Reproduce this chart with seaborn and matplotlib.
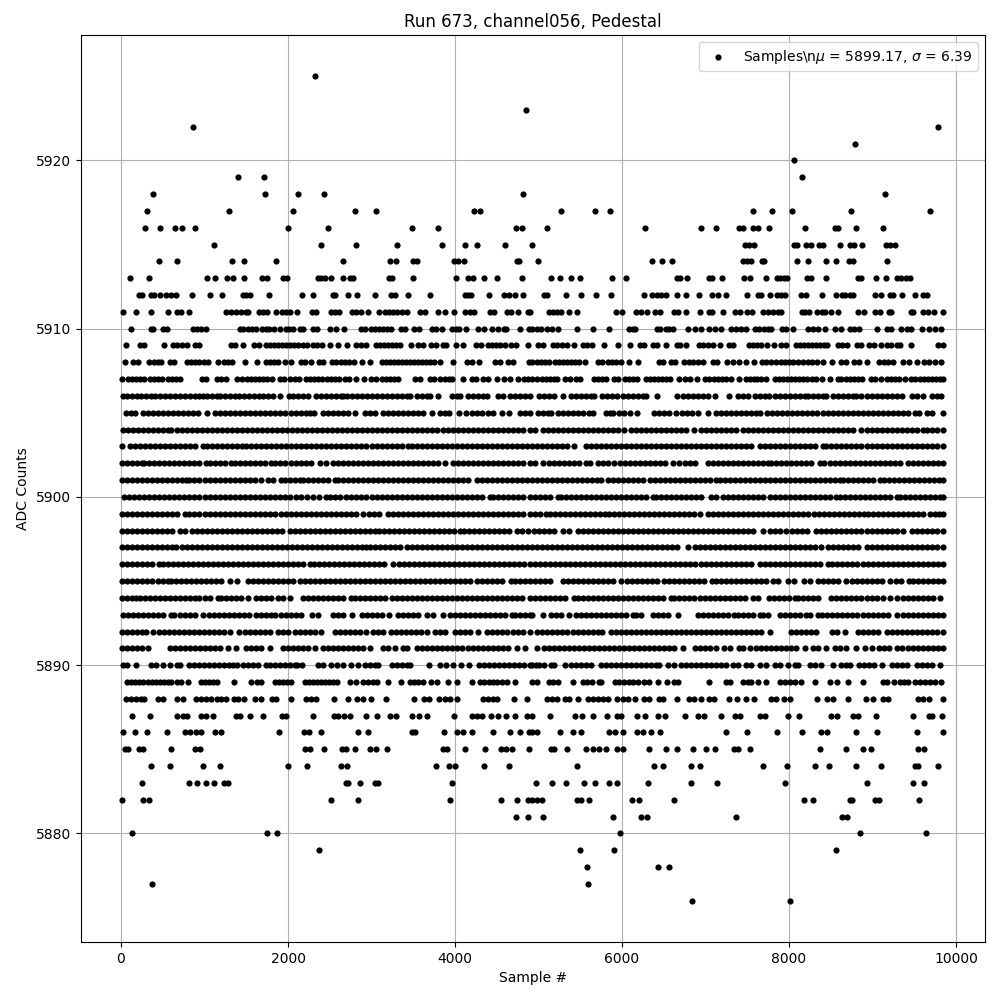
import matplotlib
matplotlib.use("Agg")
import matplotlib.pyplot as plt
import pandas as pd
import seaborn as sns

title = "Run 673, channel056, Pedestal"
x_label = "Sample #"
y_label = "ADC Counts"
legend_label = r"Samples\n$\mu$ = 5899.17, $\sigma$ = 6.39"

r5925 = [2324]
r5923 = [4856]
r5922 = [860, 9788]
r5921 = [8792]
r5920 = [8060]
r5919 = [1400, 1712, 8156]
r5918 = [380, 1724, 2120, 2432, 4820, 9152]
r5917 = [308, 1292, 2060, 2804, 3056, 4232, 4304, 5264, 5672, 5852, 7568, 7796, 8036, 8744, 9692]
r5916 = [284, 464, 644, 728, 884, 2000, 2480, 3488, 3800, 4732, 4800, 5096, 6272, 6944, 7124, 7396, 7448, 7568, 7628, 7760, 8192, 8552, 8588, 8804, 9128]
r5915 = [1112, 2396, 2816, 3308, 3848, 4124, 4268, 4604, 4928, 7468, 7520, 7580, 8060, 8096, 8204, 8264, 8360, 8408, 8612, 8732, 8780, 8876, 9160, 9212, 9272]
r5914 = [452, 668, 1328, 1472, 1856, 2660, 3224, 3296, 3500, 3548, 3992, 4040, 4112, 4740, 4772, 4988, 6356, 6476, 6596, 7448, 7496, 7544, 7676, 7700, 8096, 8228, 8444, 8564, 8720, 8768, 9176]
r5913 = [104, 332, 1028, 1124, 1268, 1340, 1472, 1688, 1748, 1940, 1988, 2360, 2396, 2444, 2516, 2660, 2744, 2780, 3212, 3248, 3500, 4016, 4160, 4220, 4352, 4508, 4808, 5144, 5252, 5384, 5492, 5876, 6044, 6656, 6692, 6776, 7040, 7076, 7196, 7460, 7532, 7724, 7856, 7892, 7940, 7976, 8216, 8264, 8444, 8828, 8864, 9044, 9164, 9296, 9344, 9404, 9452]
r5912 = [212, 248, 356, 392, 464, 536, 596, 656, 848, 1064, 1208, 1460, 1496, 1540, 1772, 2168, 2300, 2540, 2564, 2720, 2828, 3044, 3236, 3284, 3440, 3704, 4124, 4160, 4196, 4412, 4592, 4652, 4724, 4820, 5060, 5096, 5324, 5504, 5684, 5864, 6260, 6356, 6416, 6464, 6524, 6656, 6764, 6920, 7076, 7148, 7244, 7496, 7628, 7664, 7772, 7856, 7904, 7952, 8144, 8204, 8396, 8564, 8636, 8672, 8732, 8768, 9032, 9104, 9212, 9248, 9356, 9512, 9608, 9648]
r5911 = [20, 176, 356, 560, 668, 716, 812, 1256, 1316, 1376, 1436, 1496, 1520, 1652, 1700, 1748, 1856, 1928, 1976, 2024, 2108, 2288, 2336, 2516, 2564, 2612, 2768, 2816, 2876, 2960, 3092, 3164, 3212, 3260, 3308, 3368, 3428, 3584, 3644, 3800, 3884, 3992, 4124, 4184, 4232, 4424, 4472, 4628, 4676, 4760, 4880, 4904, 5120, 5168, 5216, 5264, 5360, 5456, 5924, 5996, 6164, 6224, 6296, 6392, 6452, 6620, 6668, 6764, 6932, 7040, 7076, 7208, 7352, 7412, 7496, 7556, 7688, 7748, 7808, 7868, 7904, 8156, 8192, 8240, 8336, 8396, 8432, 8504, 8588, 8828, 8900, 9032, 9092, 9200, 9224, 9464, 9488, 9608, 9668, 9736, 9848]
r5910 = [116, 356, 380, 500, 548, 868, 916, 964, 1012, 1424, 1460, 1520, 1568, 1616, 1688, 1736, 1772, 1832, 1904, 1976, 2012, 2060, 2148, 2180, 2300, 2348, 2504, 2576, 2672, 2876, 2924, 2996, 3044, 3092, 3140, 3188, 3236, 3356, 3404, 3512, 3572, 3728, 3776, 3848, 3968, 4016, 4052, 4136, 4280, 4352, 4448, 4520, 4592, 4616, 4784, 4892, 4928, 4976, 5024, 5096, 5156, 5228, 5456, 5648, 5840, 6080, 6128, 6152, 6416, 6452, 6524, 6560, 6608, 6788, 6872, 6944, 7040, 7112, 7184, 7304, 7364, 7424, 7484, 7592, 7640, 7700, 7748, 7784, 7916, 7964, 8048, 8228, 8288, 8348, 8432, 8552, 8624, 8732, 8780, 8840, 9056, 9176, 9224, 9344, 9416, 9464, 9596, 9680, 9752, 9824]
r5909 = [56, 224, 272, 512, 620, 668, 728, 788, 884, 932, 1316, 1364, 1460, 1592, 1652, 1736, 1784, 1832, 1880, 1928, 1976, 2024, 2072, 2120, 2180, 2228, 2300, 2348, 2408, 2504, 2600, 2708, 2816, 2876, 2936, 3056, 3104, 3152, 3200, 3248, 3296, 3344, 3476, 3560, 3620, 3716, 3776, 3856, 3892, 4016, 4100, 4256, 4316, 4400, 4448, 4496, 4544, 4604, 4676, 4736, 4880, 4988, 5048, 5168, 5216, 5276, 5336, 5420, 5528, 5576, 5636, 5780, 5948, 6092, 6212, 6260, 6368, 6416, 6524, 6656, 6692, 6764, 6920, 6968, 7028, 7088, 7172, 7280, 7328, 7520, 7568, 7616, 7664, 7736, 7820, 7904, 7964, 8084, 8132, 8180, 8228, 8276, 8324, 8372, 8420, 8460, 8588, 8636, 8696, 8816, 8864, 8960, 9020, 9104, 9176, 9224, 9296, 9332, 9464, 9788, 9848]
r5908 = [44, 140, 200, 332, 392, 440, 476, 584, 632, 788, 836, 884, 932, 992, 1040, 1160, 1232, 1280, 1328, 1484, 1628, 1736, 1784, 1832, 1880, 1964, 2036, 2156, 2204, 2276, 2372, 2420, 2528, 2576, 2636, 2684, 2732, 2792, 2888, 2984, 3128, 3176, 3224, 3272, 3320, 3368, 3416, 3464, 3512, 3560, 3608, 3656, 3704, 3752, 3824, 3980, 4148, 4208, 4292, 4484, 4544, 4640, 4700, 4892, 4928, 4976, 5024, 5072, 5128, 5192, 5240, 5288, 5336, 5384, 5432, 5480, 5552, 5708, 5756, 5828, 5876, 5924, 5984, 6080, 6188, 6440, 6488, 6584, 6632, 6740, 6800, 6848, 6908, 6968, 7088, 7136, 7256, 7328, 7400, 7484, 7580, 7676, 7724, 7784, 7844, 7904, 7952, 8000, 8048, 8108, 8168, 8228, 8276, 8336, 8408, 8516, 8624, 8684, 8780, 8840, 8936, 9080, 9140, 9188, 9248, 9368, 9440, 9536, 9620, 9680, 9752, 9824]
r5907 = [8, 80, 128, 176, 224, 272, 344, 392, 440, 488, 560, 608, 656, 704, 968, 1016, 1148, 1196, 1256, 1388, 1448, 1508, 1556, 1604, 1652, 1700, 1748, 1808, 1904, 1952, 2024, 2084, 2132, 2216, 2264, 2312, 2360, 2408, 2468, 2516, 2564, 2612, 2684, 2732, 2816, 2912, 2996, 3056, 3128, 3176, 3224, 3272, 3320, 3524, 3584, 3704, 3752, 3824, 3884, 3932, 3968, 4100, 4208, 4256, 4340, 4400, 4500, 4592, 4664, 4760, 4832, 4880, 4928, 4976, 5036, 5084, 5132, 5180, 5216, 5312, 5372, 5444, 5492, 5660, 5708, 5756, 5804, 5904, 5948, 6032, 6080, 6128, 6176, 6284, 6332, 6380, 6428, 6476, 6524, 6572, 6680, 6752, 6812, 6896, 6992, 7040, 7100, 7148, 7196, 7244, 7304, 7400, 7484, 7532, 7580, 7616, 7664, 7724, 7832, 7880, 7928, 7976, 8024, 8072, 8120, 8168, 8216, 8276, 8324, 8396, 8492, 8588, 8624, 8684, 8732, 8780, 8828, 8876, 8984, 9032, 9104, 9176, 9224, 9272, 9320, 9392, 9464, 9512, 9572, 9620, 9668, 9716, 9764, 9812, 9850]
r5906 = [20, 76, 132, 188, 244, 300, 356, 412, 468, 524, 588, 652, 712, 772, 832, 892, 940, 980, 1028, 1088, 1148, 1188, 1240, 1300, 1360, 1408, 1468, 1528, 1588, 1648, 1700, 1760, 1820, 1900, 2012, 2060, 2120, 2180, 2240, 2332, 2392, 2452, 2512, 2572, 2632, 2660, 2708, 2768, 2828, 2888, 2948, 3008, 3068, 3128, 3188, 3248, 3308, 3368, 3428, 3460, 3540, 3600, 3660, 3700, 3792, 3960, 4020, 4060, 4160, 4220, 4280, 4340, 4380, 4520, 4580, 4660, 4720, 4780, 4840, 4900, 5008, 5068, 5128, 5188, 5288, 5388, 5448, 5508, 5568, 5628, 5668, 5760, 5820, 5880, 5936, 6008, 6068, 6128, 6188, 6248, 6288, 6416, 6656, 6728, 6788, 6848, 6908, 6968, 7028, 7108, 7276, 7388, 7448, 7508, 7588, 7648, 7708, 7760, 7828, 7888, 7948, 8008, 8068, 8128, 8188, 8228, 8288, 8348, 8408, 8448, 8528, 8588, 8648, 8708, 8768, 8808, 8868, 8928, 8988, 9048, 9108, 9168, 9228, 9288, 9348, 9472, 9528, 9608, 9708, 9768, 9816]
r5905 = [60, 120, 168, 260, 320, 380, 440, 500, 560, 620, 680, 740, 800, 860, 920, 1028, 1120, 1180, 1240, 1300, 1360, 1420, 1488, 1548, 1608, 1668, 1728, 1788, 1848, 1908, 1968, 2040, 2100, 2160, 2220, 2260, 2312, 2420, 2480, 2540, 2600, 2660, 2720, 2800, 2920, 2980, 3040, 3140, 3200, 3260, 3320, 3380, 3440, 3500, 3560, 3620, 3720, 3820, 3880, 3932, 4052, 4132, 4200, 4260, 4320, 4400, 4460, 4560, 4652, 4780, 4840, 4900, 4988, 5048, 5108, 5148, 5228, 5288, 5348, 5408, 5468, 5528, 5600, 5648, 5808, 5860, 5896, 5960, 6020, 6096, 6176, 6388, 6448, 6508, 6568, 6648, 6720, 6780, 6840, 6908, 7028, 7120, 7180, 7240, 7300, 7360, 7420, 7480, 7540, 7600, 7648, 7736, 7796, 7856, 7916, 7976, 8036, 8096, 8156, 8216, 8276, 8336, 8408, 8468, 8528, 8588, 8648, 8708, 8768, 8828, 8888, 8948, 9008, 9068, 9128, 9188, 9248, 9308, 9368, 9428, 9508, 9560, 9648, 9708, 9848]
r5904 = [20, 80, 140, 200, 260, 320, 380, 440, 500, 560, 600, 668, 728, 788, 848, 908, 968, 1028, 1088, 1148, 1208, 1268, 1328, 1388, 1448, 1508, 1568, 1628, 1688, 1748, 1808, 1868, 1928, 1988, 2048, 2108, 2168, 2228, 2288, 2348, 2408, 2468, 2528, 2588, 2648, 2708, 2768, 2828, 2888, 2948, 3008, 3068, 3128, 3188, 3248, 3308, 3368, 3428, 3488, 3548, 3608, 3668, 3728, 3788, 3860, 3920, 3980, 4040, 4100, 4160, 4220, 4280, 4340, 4400, 4460, 4520, 4580, 4640, 4700, 4760, 4820, 4900, 4960, 5048, 5108, 5168, 5228, 5288, 5348, 5408, 5468, 5528, 5588, 5648, 5708, 5768, 5828, 5888, 5948, 6028, 6108, 6168, 6228, 6288, 6348, 6408, 6468, 6528, 6588, 6648, 6708, 6768, 6868, 6948, 7008, 7068, 7128, 7188, 7248, 7308, 7368, 7448, 7508, 7568, 7628, 7688, 7748, 7808, 7868, 7928, 7988, 8048, 8108, 8168, 8228, 8288, 8348, 8408, 8468, 8528, 8588, 8648, 8708, 8768, 8868, 8928, 8988, 9048, 9108, 9168, 9228, 9288, 9348, 9408, 9468, 9528, 9608, 9648, 9708, 9768, 9848]
r5903 = [8, 108, 168, 228, 288, 348, 408, 468, 528, 588, 648, 708, 768, 828, 888, 980, 1028, 1088, 1148, 1208, 1268, 1328, 1388, 1448, 1500, 1560, 1620, 1680, 1740, 1800, 1860, 1920, 1980, 2040, 2100, 2160, 2220, 2280, 2340, 2400, 2460, 2520, 2580, 2640, 2700, 2760, 2820, 2880, 2940, 3000, 3060, 3120, 3180, 3240, 3300, 3360, 3440, 3480, 3540, 3600, 3660, 3720, 3780, 3840, 3900, 3960, 4020, 4080, 4140, 4200, 4260, 4320, 4380, 4440, 4500, 4560, 4620, 4680, 4740, 4800, 4860, 4920, 4980, 5040, 5100, 5160, 5220, 5280, 5340, 5428, 5568, 5628, 5688, 5748, 5808, 5868, 5928, 5988, 6048, 6108, 6168, 6228, 6288, 6348, 6408, 6468, 6528, 6588, 6648, 6708, 6768, 6828, 6888, 6948, 7008, 7068, 7128, 7188, 7248, 7308, 7368, 7428, 7488, 7548, 7648, 7708, 7768, 7828, 7888, 7948, 8008, 8068, 8128, 8188, 8248, 8308, 8408, 8448, 8508, 8568, 8628, 8688, 8748, 8808, 8868, 8928, 8988, 9048, 9108, 9168, 9228, 9288, 9348, 9408, 9468, 9528, 9588, 9648, 9708, 9768, 9848]
r5902 = [8, 68, 128, 188, 248, 280, 340, 400, 460, 520, 580, 640, 700, 760, 820, 880, 940, 1020, 1060, 1120, 1180, 1240, 1320, 1360, 1420, 1480, 1540, 1600, 1660, 1720, 1800, 1840, 1900, 1960, 2040, 2100, 2160, 2220, 2280, 2388, 2460, 2540, 2600, 2660, 2720, 2780, 2840, 2900, 2960, 3020, 3080, 3140, 3200, 3260, 3320, 3380, 3440, 3500, 3560, 3620, 3680, 3740, 3800, 3880, 3972, 4032, 4092, 4152, 4212, 4272, 4332, 4392, 4452, 4512, 4572, 4640, 4700, 4760, 4820, 4900, 4960, 5048, 5128, 5188, 5248, 5308, 5368, 5428, 5488, 5572, 5612, 5708, 5768, 5828, 5908, 5976, 6036, 6096, 6156, 6216, 6276, 6336, 6396, 6456, 6516, 6608, 6680, 6760, 6820, 6880, 7028, 7088, 7148, 7208, 7268, 7328, 7388, 7448, 7508, 7568, 7628, 7688, 7748, 7788, 7848, 7908, 7968, 8028, 8088, 8148, 8208, 8268, 8368, 8420, 8488, 8548, 8608, 8668, 8728, 8788, 8848, 8908, 8968, 9028, 9088, 9148, 9208, 9268, 9328, 9428, 9488, 9548, 9608, 9668, 9728, 9788, 9848]
r5901 = [8, 68, 128, 188, 248, 308, 368, 428, 488, 548, 608, 668, 728, 780, 820, 880, 940, 1000, 1060, 1120, 1180, 1240, 1300, 1360, 1420, 1480, 1540, 1600, 1672, 1760, 1820, 1920, 1960, 2020, 2080, 2140, 2180, 2240, 2300, 2360, 2420, 2480, 2560, 2600, 2660, 2720, 2780, 2840, 2900, 2960, 3020, 3080, 3140, 3200, 3260, 3320, 3380, 3440, 3500, 3560, 3620, 3680, 3740, 3800, 3860, 3920, 3980, 4040, 4100, 4160, 4260, 4320, 4380, 4440, 4500, 4560, 4620, 4680, 4740, 4800, 4860, 4920, 4980, 5040, 5100, 5160, 5220, 5280, 5340, 5400, 5460, 5520, 5580, 5640, 5700, 5748, 5828, 5888, 5948, 6008, 6068, 6128, 6188, 6248, 6336, 6396, 6456, 6516, 6576, 6636, 6696, 6756, 6816, 6876, 6936, 6996, 7056, 7128, 7168, 7228, 7288, 7348, 7408, 7468, 7528, 7588, 7648, 7708, 7768, 7828, 7888, 7948, 8008, 8068, 8128, 8188, 8248, 8308, 8368, 8428, 8488, 8548, 8608, 8648, 8708, 8768, 8828, 8888, 8948, 9008, 9088, 9136, 9196, 9256, 9316, 9376, 9436, 9496, 9556, 9616, 9676, 9736, 9796, 9848]
r5900 = [40, 100, 160, 220, 280, 340, 400, 460, 520, 580, 640, 700, 760, 820, 880, 940, 1000, 1060, 1120, 1180, 1240, 1300, 1360, 1420, 1480, 1540, 1600, 1660, 1720, 1780, 1840, 1900, 1960, 2020, 2100, 2160, 2230, 2300, 2370, 2460, 2500, 2560, 2620, 2700, 2760, 2820, 2880, 2940, 3000, 3060, 3120, 3180, 3240, 3300, 3360, 3420, 3480, 3540, 3600, 3660, 3720, 3780, 3840, 3900, 3960, 4020, 4080, 4140, 4200, 4260, 4320, 4420, 4460, 4520, 4580, 4640, 4700, 4760, 4820, 4900, 4960, 5020, 5080, 5140, 5228, 5268, 5328, 5388, 5448, 5508, 5568, 5628, 5688, 5748, 5808, 5868, 5928, 5988, 6048, 6108, 6168, 6228, 6288, 6368, 6408, 6468, 6528, 6588, 6648, 6708, 6768, 6828, 6888, 6948, 7068, 7128, 7208, 7268, 7328, 7388, 7448, 7508, 7568, 7628, 7688, 7776, 7836, 7896, 7956, 8016, 8076, 8136, 8196, 8256, 8316, 8376, 8436, 8496, 8568, 8608, 8668, 8728, 8788, 8848, 8908, 8968, 9028, 9088, 9148, 9208, 9288, 9328, 9388, 9448, 9508, 9568, 9628, 9688, 9748, 9808, 9848]
r5899 = [8, 68, 128, 188, 248, 308, 368, 428, 488, 548, 608, 668, 772, 820, 880, 940, 1000, 1060, 1120, 1180, 1240, 1300, 1360, 1420, 1480, 1540, 1600, 1660, 1720, 1780, 1840, 1920, 1980, 2040, 2100, 2160, 2220, 2280, 2340, 2400, 2460, 2520, 2580, 2640, 2700, 2760, 2820, 2900, 2972, 3032, 3092, 3200, 3260, 3320, 3380, 3440, 3500, 3560, 3620, 3680, 3740, 3800, 3860, 3920, 3980, 4040, 4100, 4160, 4220, 4280, 4340, 4400, 4460, 4520, 4580, 4640, 4700, 4760, 4820, 4900, 4960, 5020, 5088, 5136, 5196, 5256, 5316, 5376, 5436, 5496, 5556, 5616, 5676, 5736, 5796, 5848, 5908, 5968, 6028, 6088, 6148, 6208, 6268, 6328, 6388, 6448, 6508, 6568, 6628, 6688, 6748, 6808, 6868, 6928, 7028, 7088, 7148, 7208, 7268, 7328, 7388, 7448, 7508, 7568, 7628, 7688, 7748, 7808, 7868, 7928, 7988, 8048, 8108, 8168, 8228, 8296, 8356, 8416, 8476, 8536, 8596, 8656, 8716, 8776, 8836, 8896, 8948, 9008, 9068, 9128, 9188, 9248, 9308, 9368, 9428, 9488, 9548, 9608, 9688, 9748, 9800, 9848]
r5898 = [8, 68, 128, 188, 248, 308, 368, 428, 488, 548, 608, 708, 772, 852, 908, 968, 1028, 1088, 1148, 1208, 1268, 1328, 1388, 1448, 1508, 1568, 1628, 1688, 1748, 1808, 1868, 1928, 2020, 2080, 2140, 2200, 2260, 2320, 2380, 2440, 2500, 2560, 2620, 2680, 2740, 2800, 2860, 2920, 2980, 3040, 3092, 3152, 3212, 3272, 3332, 3392, 3452, 3512, 3572, 3632, 3692, 3752, 3812, 3872, 3932, 3992, 4060, 4112, 4172, 4232, 4292, 4352, 4412, 4472, 4532, 4592, 4652, 4740, 4800, 4880, 4940, 5000, 5060, 5120, 5180, 5288, 5368, 5468, 5528, 5588, 5648, 5708, 5768, 5828, 5888, 5948, 6008, 6068, 6128, 6188, 6248, 6308, 6368, 6428, 6488, 6548, 6608, 6668, 6728, 6788, 6848, 6908, 6968, 7028, 7088, 7148, 7208, 7268, 7328, 7388, 7448, 7508, 7568, 7688, 7776, 7836, 7896, 7968, 8040, 8100, 8160, 8220, 8328, 8388, 8448, 8508, 8568, 8628, 8688, 8748, 8808, 8868, 8928, 8988, 9048, 9108, 9168, 9228, 9288, 9368, 9468, 9528, 9588, 9648, 9708, 9768, 9848]
r5897 = [8, 68, 128, 188, 248, 308, 368, 428, 488, 548, 608, 660, 732, 792, 852, 912, 972, 1032, 1092, 1152, 1212, 1272, 1332, 1392, 1452, 1512, 1572, 1632, 1692, 1752, 1812, 1872, 1932, 1992, 2052, 2112, 2172, 2232, 2292, 2352, 2412, 2472, 2532, 2592, 2652, 2712, 2772, 2832, 2892, 2940, 2980, 3040, 3100, 3160, 3220, 3280, 3340, 3420, 3480, 3540, 3600, 3660, 3720, 3780, 3840, 3900, 3960, 4020, 4080, 4140, 4200, 4260, 4320, 4380, 4440, 4500, 4560, 4620, 4680, 4740, 4800, 4860, 4920, 4980, 5040, 5100, 5160, 5220, 5280, 5340, 5400, 5460, 5520, 5580, 5640, 5700, 5760, 5820, 5880, 5940, 6000, 6060, 6120, 6180, 6240, 6300, 6360, 6420, 6480, 6540, 6600, 6660, 6788, 6876, 6936, 6996, 7056, 7116, 7176, 7236, 7296, 7356, 7416, 7476, 7536, 7596, 7656, 7716, 7776, 7836, 7896, 7956, 8016, 8076, 8136, 8196, 8256, 8316, 8388, 8468, 8528, 8588, 8648, 8708, 8768, 8828, 8928, 8988, 9048, 9108, 9168, 9228, 9288, 9348, 9408, 9468, 9528, 9588, 9648, 9708, 9768, 9848]
r5896 = [8, 68, 128, 188, 248, 308, 368, 460, 500, 560, 620, 680, 740, 800, 860, 920, 980, 1040, 1100, 1160, 1220, 1280, 1340, 1400, 1460, 1520, 1580, 1640, 1700, 1760, 1820, 1880, 1940, 2000, 2060, 2120, 2180, 2260, 2312, 2372, 2432, 2492, 2552, 2612, 2672, 2732, 2792, 2852, 2912, 2972, 3032, 3092, 3152, 3260, 3330, 3390, 3450, 3510, 3570, 3630, 3690, 3750, 3810, 3870, 3930, 3990, 4050, 4110, 4170, 4230, 4290, 4350, 4410, 4470, 4530, 4590, 4650, 4710, 4770, 4830, 4900, 4960, 5020, 5080, 5140, 5200, 5260, 5320, 5380, 5440, 5500, 5560, 5620, 5680, 5740, 5800, 5860, 5920, 5980, 6040, 6100, 6160, 6220, 6280, 6340, 6400, 6460, 6520, 6580, 6640, 6700, 6760, 6820, 6880, 6940, 7000, 7060, 7120, 7180, 7240, 7300, 7360, 7420, 7480, 7540, 7648, 7708, 7768, 7828, 7888, 7948, 8008, 8068, 8128, 8188, 8248, 8316, 8376, 8468, 8520, 8580, 8640, 8700, 8760, 8820, 8880, 8940, 9000, 9060, 9120, 9180, 9240, 9300, 9360, 9420, 9480, 9540, 9600, 9660, 9720, 9780, 9848]
r5895 = [8, 68, 128, 188, 248, 308, 368, 440, 500, 560, 600, 660, 720, 780, 840, 900, 960, 1020, 1080, 1140, 1200, 1308, 1388, 1520, 1580, 1640, 1700, 1760, 1820, 1880, 1940, 2000, 2060, 2140, 2200, 2260, 2320, 2380, 2440, 2500, 2560, 2620, 2680, 2740, 2800, 2860, 2920, 2980, 3040, 3100, 3160, 3220, 3280, 3340, 3400, 3460, 3520, 3580, 3640, 3700, 3760, 3820, 3880, 3940, 4000, 4060, 4120, 4180, 4260, 4320, 4380, 4440, 4500, 4560, 4668, 4720, 4780, 4840, 4900, 4960, 5020, 5080, 5140, 5288, 5348, 5408, 5468, 5528, 5588, 5648, 5708, 5768, 5828, 5888, 5992, 6056, 6116, 6176, 6236, 6296, 6356, 6416, 6508, 6560, 6620, 6680, 6740, 6800, 6860, 6920, 6980, 7080, 7128, 7188, 7248, 7308, 7368, 7428, 7488, 7548, 7608, 7668, 7728, 7808, 7868, 7988, 8060, 8176, 8256, 8348, 8408, 8468, 8528, 8588, 8688, 8756, 8816, 8876, 8936, 8996, 9056, 9116, 9208, 9276, 9336, 9440, 9480, 9540, 9600, 9660, 9720, 9780, 9848]
r5894 = [8, 68, 128, 180, 228, 288, 348, 408, 468, 528, 588, 648, 708, 768, 828, 888, 940, 1000, 1060, 1160, 1200, 1260, 1320, 1380, 1440, 1520, 1620, 1680, 1740, 1800, 1880, 1940, 2020, 2180, 2240, 2300, 2360, 2420, 2480, 2540, 2600, 2660, 2760, 2800, 2860, 2920, 2980, 3040, 3100, 3160, 3240, 3308, 3368, 3428, 3488, 3548, 3608, 3668, 3728, 3788, 3848, 3908, 3968, 4028, 4088, 4148, 4208, 4268, 4328, 4388, 4448, 4508, 4568, 4628, 4688, 4748, 4808, 4900, 4960, 5020, 5080, 5140, 5200, 5260, 5320, 5428, 5468, 5528, 5588, 5648, 5708, 5768, 5828, 5888, 5948, 6008, 6068, 6128, 6188, 6248, 6308, 6368, 6428, 6488, 6588, 6628, 6688, 6748, 6808, 6868, 6928, 6988, 7048, 7108, 7168, 7228, 7288, 7348, 7408, 7468, 7568, 7628, 7760, 7820, 7880, 7940, 8000, 8068, 8108, 8168, 8228, 8288, 8348, 8508, 8568, 8628, 8688, 8748, 8808, 8868, 8928, 8988, 9048, 9128, 9208, 9288, 9360, 9420, 9480, 9540, 9600, 9660, 9720, 9808]
r5893 = [20, 80, 140, 200, 260, 320, 380, 440, 500, 600, 640, 712, 772, 832, 892, 980, 1052, 1112, 1172, 1228, 1288, 1348, 1408, 1468, 1528, 1620, 1680, 1740, 1800, 1848, 1920, 1980, 2040, 2100, 2160, 2288, 2360, 2540, 2600, 2660, 2772, 2888, 2948, 3008, 3068, 3128, 3208, 3320, 3380, 3440, 3500, 3560, 3660, 3740, 3860, 3940, 4000, 4060, 4120, 4180, 4240, 4300, 4360, 4420, 4480, 4540, 4600, 4680, 4720, 4780, 4840, 4900, 4920, 5056, 5148, 5208, 5268, 5368, 5448, 5508, 5568, 5628, 5688, 5748, 5808, 5868, 5928, 5988, 6048, 6128, 6168, 6228, 6376, 6436, 6496, 6556, 6668, 6908, 6968, 7028, 7088, 7148, 7208, 7268, 7336, 7388, 7448, 7508, 7568, 7648, 7688, 7748, 7888, 7948, 8008, 8068, 8128, 8208, 8248, 8348, 8400, 8460, 8520, 8580, 8640, 8700, 8760, 8820, 8880, 8940, 9000, 9060, 9120, 9180, 9288, 9368, 9428, 9488, 9548, 9608, 9668, 9728, 9788, 9848]
r5892 = [12, 72, 132, 192, 252, 300, 380, 452, 512, 572, 632, 692, 752, 812, 872, 932, 992, 1052, 1112, 1172, 1232, 1300, 1412, 1480, 1548, 1608, 1668, 1728, 1780, 1880, 1940, 2000, 2080, 2140, 2200, 2260, 2320, 2400, 2560, 2620, 2680, 2740, 2800, 2860, 2940, 3020, 3080, 3140, 3228, 3288, 3348, 3408, 3468, 3528, 3588, 3660, 3760, 3820, 3880, 4000, 4060, 4120, 4180, 4280, 4380, 4440, 4500, 4560, 4620, 4700, 4760, 4820, 4900, 4976, 5036, 5096, 5156, 5216, 5276, 5336, 5408, 5468, 5528, 5588, 5648, 5708, 5760, 5868, 5928, 5988, 6048, 6108, 6168, 6228, 6288, 6348, 6408, 6468, 6528, 6588, 6648, 6708, 6768, 6828, 6888, 6948, 7008, 7068, 7128, 7188, 7248, 7308, 7368, 7428, 7488, 7548, 7608, 7668, 7768, 8028, 8088, 8148, 8208, 8268, 8328, 8512, 8572, 8668, 8828, 8888, 8948, 9008, 9068, 9168, 9228, 9288, 9348, 9408, 9468, 9528, 9588, 9648, 9708, 9768, 9848]
r5891 = [8, 68, 128, 188, 248, 320, 588, 648, 708, 768, 828, 888, 948, 1008, 1068, 1128, 1188, 1280, 1380, 1500, 1560, 1620, 1680, 1780, 1940, 2000, 2060, 2120, 2180, 2240, 2320, 2420, 2480, 2540, 2600, 2660, 2720, 2780, 2840, 2900, 2980, 3140, 3200, 3280, 3380, 3420, 3540, 3600, 3660, 3720, 3780, 3840, 3900, 3960, 4020, 4080, 4160, 4220, 4280, 4340, 4400, 4460, 4520, 4580, 4640, 4740, 4840, 4976, 5068, 5128, 5188, 5248, 5308, 5368, 5428, 5488, 5548, 5608, 5668, 5728, 5788, 5848, 5908, 5968, 6028, 6088, 6148, 6208, 6268, 6328, 6388, 6448, 6508, 6568, 6628, 6736, 6876, 6936, 6996, 7056, 7128, 7220, 7288, 7400, 7448, 7528, 7608, 7668, 7728, 7788, 7848, 7908, 7968, 8028, 8088, 8188, 8288, 8348, 8448, 8548, 8608, 8688, 8808, 8908, 8996, 9080, 9140, 9200, 9288, 9348, 9428, 9488, 9548, 9608, 9668, 9728, 9788, 9848]
r5890 = [20, 68, 184, 356, 416, 500, 584, 668, 704, 812, 872, 932, 992, 1052, 1112, 1172, 1232, 1292, 1340, 1388, 1460, 1520, 1580, 1640, 1740, 1788, 1848, 1908, 1968, 2028, 2080, 2108, 2168, 2360, 2420, 2520, 2588, 2660, 2756, 2840, 2924, 2984, 3044, 3080, 3248, 3308, 3360, 3420, 3460, 3692, 3824, 3896, 3980, 4076, 4172, 4292, 4352, 4412, 4472, 4532, 4592, 4652, 4712, 4772, 4832, 4900, 4928, 4968, 5008, 5068, 5148, 5188, 5320, 5388, 5448, 5508, 5568, 5628, 5748, 5808, 5868, 5928, 5988, 6048, 6108, 6168, 6228, 6288, 6348, 6408, 6448, 6548, 6628, 6708, 6768, 6828, 6888, 6948, 7008, 7068, 7128, 7188, 7248, 7328, 7388, 7488, 7548, 7648, 7728, 7828, 7888, 7988, 8068, 8108, 8248, 8308, 8388, 8528, 8628, 8688, 8728, 8840, 8900, 8960, 9020, 9108, 9228, 9288, 9348, 9408, 9528, 9588, 9648, 9708, 9808]
r5889 = [72, 120, 168, 216, 260, 320, 368, 416, 464, 512, 560, 600, 668, 720, 800, 960, 1008, 1056, 1100, 1148, 1352, 1560, 1628, 1676, 1848, 1896, 1944, 1992, 2040, 2204, 2252, 2300, 2348, 2396, 2444, 2492, 2540, 2588, 2748, 2812, 2900, 2960, 3020, 3068, 3200, 3356, 3464, 3512, 3560, 3620, 3708, 3788, 3920, 4028, 4208, 4300, 4352, 4404, 4456, 4508, 4560, 4628, 4720, 4928, 4984, 5120, 5168, 5228, 5416, 5528, 5576, 5636, 5720, 5748, 5920, 5968, 6028, 6080, 6128, 6188, 6268, 6320, 6428, 6536, 6620, 6668, 7040, 7248, 7288, 7448, 7508, 7548, 7628, 7724, 7888, 7948, 8008, 8068, 8144, 8312, 8492, 8576, 8708, 8888, 9128, 9176, 9260, 9328, 9376, 9428, 9508, 9568, 9628, 9688, 9748, 9820]
r5888 = [60, 120, 180, 240, 272, 440, 500, 668, 740, 900, 960, 1020, 1080, 1148, 1200, 1260, 1352, 1400, 1468, 1600, 1676, 1808, 1860, 2036, 2216, 2276, 2336, 2548, 2720, 2828, 2900, 2988, 3176, 3504, 3632, 3688, 3808, 3880, 3940, 4028, 4340, 4400, 4460, 4508, 4712, 4860, 5096, 5160, 5216, 5320, 5368, 5468, 5588, 5648, 5708, 5768, 5836, 5936, 6008, 6068, 6152, 6268, 6320, 6440, 6488, 6656, 6808, 6868, 6948, 7040, 7096, 7276, 7376, 7484, 7580, 7784, 7840, 7940, 8012, 8336, 8456, 8528, 8708, 8924, 9008, 9128, 9188, 9548, 9608, 9680, 9850]
r5887 = [128, 344, 668, 740, 788, 956, 1020, 1100, 1372, 1428, 1540, 1700, 1928, 1972, 2300, 2552, 2604, 2672, 2740, 2936, 3068, 3224, 3296, 3488, 3572, 3668, 3988, 4208, 4260, 4328, 4436, 4520, 4616, 4724, 4868, 4928, 5132, 5432, 5516, 5648, 5816, 5936, 5988, 6176, 6272, 6428, 6520, 6752, 6908, 6980, 7184, 7352, 7416, 7652, 7712, 7988, 8120, 8508, 8576, 8768, 8828, 9044, 9488, 9680, 9708, 9836]
r5886 = [20, 164, 308, 548, 764, 824, 900, 960, 1124, 1196, 1892, 2192, 2248, 2396, 2840, 2960, 3488, 3524, 3872, 4028, 4100, 4208, 4460, 4664, 4784, 4892, 4928, 4976, 5252, 5408, 5504, 5840, 5912, 6008, 6176, 6248, 6352, 6452, 7244, 7496, 7856, 8156, 8384, 8456, 8804, 9056, 9536, 9850]
r5885 = [52, 88, 212, 260, 596, 884, 948, 2204, 2264, 2432, 2648, 2696, 2800, 2984, 3056, 3188, 3860, 3908, 4124, 4364, 4556, 4616, 4688, 4892, 5144, 5188, 5336, 5564, 5648, 5720, 5808, 5936, 6008, 6320, 6524, 6656, 6848, 7004, 7112, 7340, 7388, 7532, 8372, 8684, 8888, 8984, 9548, 9620]
r5884 = [356, 584, 980, 1184, 2000, 2228, 2636, 2708, 3776, 3932, 4004, 4352, 4652, 5456, 6380, 6488, 6824, 6932, 7688, 7976, 8312, 8480, 8804, 9104, 9504, 9548, 9788]
r5883 = [248, 812, 908, 1016, 1112, 1232, 1280, 2696, 2720, 2864, 3044, 3080, 3968, 4964, 5156, 5324, 5540, 5672, 5840, 5936, 6308, 6824, 7136, 7952, 8936, 9488, 9620]
r5882 = [8, 260, 332, 2516, 2840, 3944, 4556, 4748, 4880, 4928, 4976, 5036, 5456, 5504, 5600, 6116, 6200, 6620, 8180, 8288, 8732, 8756, 9032, 9080, 9560]
r5881 = [4736, 4880, 5048, 5888, 6224, 6296, 7364, 8636, 8696]
r5880 = [128, 1748, 1868, 5972, 8852, 9644]
r5879 = [2372, 5492, 5900, 8564]
r5878 = [5576, 6428, 6560]
r5877 = [368, 5588]
r5876 = [6836, 8012]

rows = {
    5925: r5925, 5923: r5923, 5922: r5922, 5921: r5921, 5920: r5920, 5919: r5919,
    5918: r5918, 5917: r5917, 5916: r5916, 5915: r5915, 5914: r5914, 5913: r5913,
    5912: r5912, 5911: r5911, 5910: r5910, 5909: r5909, 5908: r5908, 5907: r5907,
    5906: r5906, 5905: r5905, 5904: r5904, 5903: r5903, 5902: r5902, 5901: r5901,
    5900: r5900, 5899: r5899, 5898: r5898, 5897: r5897, 5896: r5896, 5895: r5895,
    5894: r5894, 5893: r5893, 5892: r5892, 5891: r5891, 5890: r5890, 5889: r5889,
    5888: r5888, 5887: r5887, 5886: r5886, 5885: r5885, 5884: r5884, 5883: r5883,
    5882: r5882, 5881: r5881, 5880: r5880, 5879: r5879, 5878: r5878, 5877: r5877,
    5876: r5876,
}

df = pd.DataFrame(
    [(sample, level) for level, samples in rows.items() for sample in samples],
    columns=["sample", "adc"],
)

fig, ax = plt.subplots(figsize=(10, 10), dpi=100)
sns.scatterplot(
    data=df, x="sample", y="adc", color="black", s=20, linewidth=0,
    marker="o", zorder=2, label=legend_label, ax=ax,
)
ax.set_title(title)
ax.set_xlabel(x_label)
ax.set_ylabel(y_label)
ax.set_xlim(-479, 10347)
ax.grid(True)
ax.legend(loc="upper right")
fig.subplots_adjust(left=0.081, right=0.985, bottom=0.058, top=0.965)
fig.savefig("out.png", dpi=100)
